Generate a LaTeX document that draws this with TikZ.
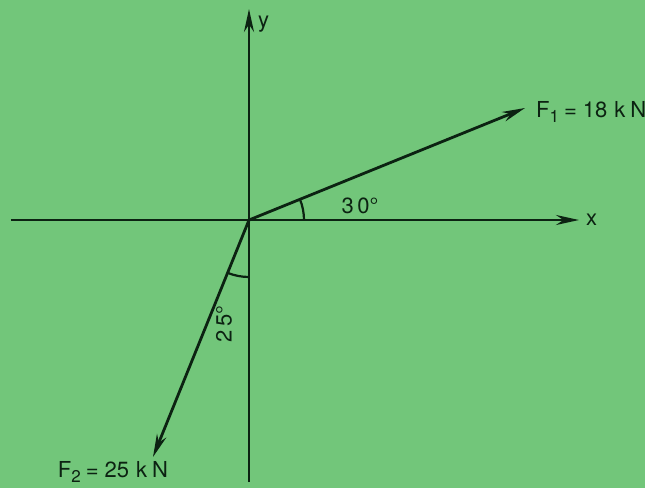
\documentclass[tikz,border=0pt]{standalone}
\usepackage{fontspec}
\setmainfont{TeX Gyre Heros}
\usetikzlibrary{arrows.meta, positioning, calc}
\definecolor{paperGreen}{RGB}{114,198,122}
\definecolor{inkDark}{RGB}{12,34,18}

\begin{document}
\begin{tikzpicture}[x=1pt, y=1pt,
    axis/.style={draw=inkDark, line width=2.8pt, -{Stealth[length=23pt, width=10pt]}},
    force/.style={draw=inkDark, line width=2.8pt, -{Stealth[length=23pt, width=10pt]}},
    anglearc/.style={draw=inkDark, line width=2.2pt},
    lbl/.style={text=inkDark, font=\fontsize{22}{26}\selectfont, inner sep=1pt}]
    % Paper
    \fill[paperGreen] (-249,-268) rectangle (396,220);
    \useasboundingbox (-249,-268) rectangle (396,220);

    % Points
    \coordinate (O) at (0,0);
    \coordinate (xl) at (-238,0);
    \coordinate (xr) at (330,0);
    \coordinate (yb) at (0,-262);
    \coordinate (yt) at (0,211);
    \coordinate (f1) at (276,112);
    \coordinate (f2) at (-96,-237);

    % Axes
    \draw[axis] (xl) -- (xr);
    \draw[axis] (yb) -- (yt);
    \node[lbl, right=6pt of xr] (xlab) {x};
    \node[lbl, right=8pt of yt, yshift=-15pt] (ylab) {y};

    % Forces
    \draw[force] (O) -- (f1);
    \draw[force] (O) -- (f2);
    \node[lbl, anchor=west] (f1lab) at ($(f1)+(10,-4)$) {F\raisebox{-5pt}{\fontsize{17}{20}\selectfont 1}\hspace{5pt}=\hspace{6pt}18\hspace{7pt}k\hspace{5pt}N};
    \node[lbl] (f2lab) at (-136,-252) {F\raisebox{-5pt}{\fontsize{17}{20}\selectfont 2}\hspace{5pt}=\hspace{6pt}25\hspace{7pt}k\hspace{5pt}N};

    % Angles
    \draw[anglearc] (55,0) arc[start angle=0, end angle=22.1, radius=55];
    \draw[anglearc] (0,-57) arc[start angle=-90, end angle=-112, radius=57];
    \node[lbl] (a30) at (111,14) {3\,0\textdegree};
    \node[lbl, rotate=90] (a25) at (-25,-104) {2\,5\textdegree};
\end{tikzpicture}
\end{document}
